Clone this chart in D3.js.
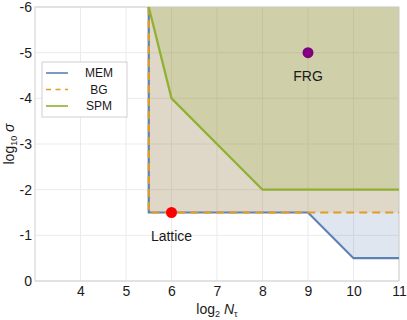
<!DOCTYPE html>
<html>
<head>
<meta charset="utf-8">
<script src="https://cdn.jsdelivr.net/npm/d3@7"></script>
<style>
  body { margin: 0; background: #fff; }
  svg { font-family: "Liberation Sans", Arial, sans-serif; }
  svg text { fill: #1a1a1a; }
  .grid line { stroke: #ebebeb; stroke-width: 1; }
  .axis text { font-size: 14px; }
  .axis .domain, .axis line { display: none; }
</style>
</head>
<body>
<div id="chart"></div>
<script>
// boundaries in (log2 Ntau, log10 sigma)
const memLine = [[5.5, -6], [5.5, -1.5], [9, -1.5], [10, -0.5], [11, -0.5]];
const bgLine = [[5.5, -6], [5.5, -1.5], [11, -1.5]];
const spmLine = [[5.5, -6], [6, -4], [8, -2], [11, -2]];

const seriesNames = ['MEM', 'BG', 'SPM'];
const seriesColors = ['#5e81b5', '#e19c24', '#8fb032'];

const points = [
  { name: 'Lattice', x: 6, y: -1.5, color: '#ff0000' },
  { name: 'FRG', x: 9, y: -5, color: '#800080' }
];

const xTicks = [4, 5, 6, 7, 8, 9, 10, 11];
const yTicks = [0, -1, -2, -3, -4, -5, -6];

const width = 407, height = 320;
const margin = { left: 35, right: 8, top: 7, bottom: 39 };

const svg = d3.select('#chart').append('svg')
  .attr('width', width)
  .attr('height', height);

const x = d3.scaleLinear().domain([3, 11]).range([margin.left, width - margin.right]);
const y = d3.scaleLinear().domain([0, -6]).range([height - margin.bottom, margin.top]);

// grid
const grid = svg.append('g').attr('class', 'grid');
grid.selectAll('.gx').data(xTicks).join('line')
  .attr('x1', d => x(d)).attr('x2', d => x(d))
  .attr('y1', y(0)).attr('y2', y(-6));
grid.selectAll('.gy').data(yTicks).join('line')
  .attr('x1', x(3)).attr('x2', x(11))
  .attr('y1', d => y(d)).attr('y2', d => y(d));

const lines = [memLine, bgLine, spmLine];

// filled regions (from boundary up to top)
const area = d3.area()
  .x(d => x(d[0]))
  .y0(y(-6))
  .y1(d => y(d[1]));

lines.forEach((pts, i) => {
  svg.append('path')
    .datum(pts)
    .attr('d', area)
    .attr('fill', seriesColors[i])
    .attr('fill-opacity', 0.2);
});

// frame
svg.append('rect')
  .attr('x', x(3)).attr('y', y(-6))
  .attr('width', x(11) - x(3)).attr('height', y(0) - y(-6))
  .attr('fill', 'none')
  .attr('stroke', '#cfcfcf');

const line = d3.line().x(d => x(d[0])).y(d => y(d[1]));

// boundary lines
lines.forEach((pts, i) => {
  svg.append('path')
    .datum(pts)
    .attr('d', line)
    .attr('fill', 'none')
    .attr('stroke', seriesColors[i])
    .attr('stroke-width', 2.2)
    .attr('stroke-dasharray', seriesNames[i] === 'BG' ? '8,5' : null);
});

// points
svg.selectAll('.pt').data(points).join('circle')
  .attr('cx', d => x(d.x))
  .attr('cy', d => y(d.y))
  .attr('r', 5.5)
  .attr('fill', d => d.color);

svg.selectAll('.ptlabel').data(points).join('text')
  .attr('x', d => x(d.x))
  .attr('y', d => y(d.y) + 28)
  .attr('text-anchor', 'middle')
  .attr('font-size', 14)
  .text(d => d.name);

// axes
svg.append('g')
  .attr('class', 'axis x')
  .attr('transform', `translate(0, ${y(0)})`)
  .call(d3.axisBottom(x).tickValues(xTicks).tickSize(0).tickPadding(5).tickFormat(d3.format('d')))
  .attr('font-family', null)
  .attr('font-size', null);

svg.append('g')
  .attr('class', 'axis y')
  .attr('transform', `translate(${x(3)}, 0)`)
  .call(d3.axisLeft(y).tickValues(yTicks).tickSize(0).tickPadding(3)
    .tickFormat(d => d === 0 ? '0' : '-' + Math.abs(d)))
  .attr('font-family', null)
  .attr('font-size', null);

// axis titles
const xt = svg.append('text')
  .attr('x', (x(3) + x(11)) / 2 + 0)
  .attr('y', 314)
  .attr('text-anchor', 'middle')
  .attr('font-size', 14);
xt.append('tspan').text('log');
xt.append('tspan').attr('font-size', 9).attr('dy', 3).text('2');
xt.append('tspan').attr('dy', -3).text(' ');
xt.append('tspan').attr('font-style', 'italic').text('N');
xt.append('tspan').attr('font-size', 9).attr('dy', 3).text('τ');

const yt = svg.append('text')
  .attr('transform', `translate(14, ${(y(0) + y(-6)) / 2}) rotate(-90)`)
  .attr('text-anchor', 'middle')
  .attr('font-size', 14);
yt.append('tspan').text('log');
yt.append('tspan').attr('font-size', 9).attr('dy', 3).text('10');
yt.append('tspan').attr('dy', -3).text(' ');
yt.append('tspan').attr('font-style', 'italic').text('σ');

// legend
const legend = svg.append('g').attr('transform', 'translate(42, 62)');
legend.append('rect')
  .attr('width', 85).attr('height', 55)
  .attr('fill', '#fff')
  .attr('stroke', '#d0d0d0');
seriesNames.forEach((name, i) => {
  const yy = 11 + i * 16.5;
  legend.append('line')
    .attr('x1', 4).attr('x2', 26)
    .attr('y1', yy).attr('y2', yy)
    .attr('stroke', seriesColors[i])
    .attr('stroke-width', 1.6)
    .attr('stroke-dasharray', name === 'BG' ? '5,4.5' : null);
  legend.append('text')
    .attr('x', 57).attr('y', yy + 4)
    .attr('text-anchor', 'middle')
    .attr('font-size', 12)
    .text(name);
});
</script>
</body>
</html>
